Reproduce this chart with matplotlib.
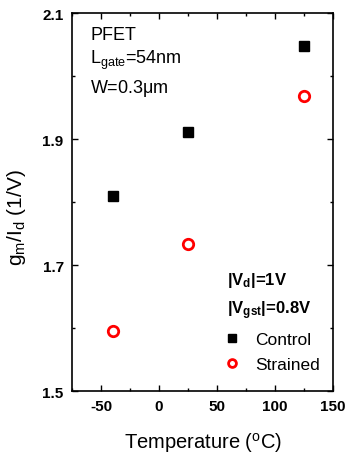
import matplotlib
matplotlib.use("Agg")
import matplotlib.pyplot as plt
from matplotlib.ticker import MultipleLocator, FixedLocator

plt.rcParams['font.family'] = 'Liberation Sans'
plt.rcParams['mathtext.fontset'] = 'custom'
plt.rcParams['mathtext.rm'] = 'Liberation Sans'
plt.rcParams['mathtext.it'] = 'Liberation Sans'
plt.rcParams['mathtext.bf'] = 'Liberation Sans:bold'
plt.rcParams['axes.unicode_minus'] = False

# temperatures (C) and gm/Id (1/V)
temps = [-40, 25, 125]
control = [1.809, 1.911, 2.048]
strained = [1.595, 1.734, 1.968]
yticks = [1.5, 1.7, 1.9, 2.1]

fig = plt.figure(figsize=(3.46, 4.56), dpi=100)
ax = fig.add_axes([72/346, 1-392/456, (333-72)/346, (392-14)/456])

ax.plot(temps, control, 's', color='black', markersize=7.5, label='Control', linestyle='none')
ax.plot(temps, strained, 'o', markerfacecolor='none', markeredgecolor='red',
        markeredgewidth=2, markersize=7.5, label='Strained', linestyle='none')

ax.set_xlim(-75, 150)
ax.set_ylim(1.5, 2.1)
ax.xaxis.set_major_locator(MultipleLocator(50))
ax.xaxis.set_minor_locator(MultipleLocator(25))
ax.yaxis.set_major_locator(FixedLocator(yticks))
ax.yaxis.set_minor_locator(MultipleLocator(0.1))
ax.tick_params(which='both', direction='in', top=True, right=True, width=1)
ax.tick_params(which='major', length=4, labelsize=11, pad=6)
ax.tick_params(which='minor', length=2.5)
for lab in ax.get_xticklabels() + ax.get_yticklabels():
    lab.set_fontweight('bold')
for s in ax.spines.values():
    s.set_linewidth(1.2)

ax.set_xlabel('Temperature ($^{\\mathrm{o}}$C)', fontsize=14.5, labelpad=12)
ax.set_ylabel('g$_{\\mathrm{m}}$/I$_{\\mathrm{d}}$ (1/V)', fontsize=15, labelpad=4)
ax.yaxis.set_label_coords(-0.17, 0.46)

ax.text(0.069, 0.944, 'PFET', transform=ax.transAxes, fontsize=13, va='center')
ax.text(0.069, 0.876, 'L$_{\\mathrm{gate}}$=54nm', transform=ax.transAxes, fontsize=13, va='center')
ax.text(0.069, 0.802, 'W=0.3$\\mathrm{\\mu}$m', transform=ax.transAxes, fontsize=13, va='center')

ax.text(0.594, 0.296, '|V$_{\\mathbf{d}}$|=1V', transform=ax.transAxes, fontsize=12,
        fontweight='bold', va='center')
ax.text(0.594, 0.215, '|V$_{\\mathbf{gst}}$|=0.8V', transform=ax.transAxes, fontsize=12,
        fontweight='bold', va='center')

ax.legend(loc='lower left', bbox_to_anchor=(0.515, 0.01), frameon=False, fontsize=12.5,
          handletextpad=0.7, labelspacing=0.55, markerscale=0.75, handlelength=1.2)

fig.savefig('out.png', dpi=100)
